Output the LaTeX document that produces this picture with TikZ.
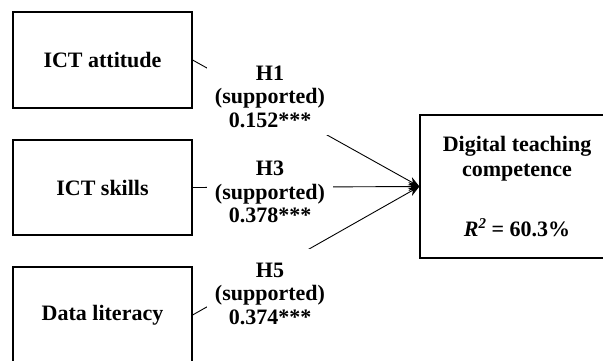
\documentclass[tikz,border=0pt]{standalone}
\usepackage{fontspec}
\setmainfont{Liberation Serif}
\usetikzlibrary{arrows.meta}
\begin{document}
\begin{tikzpicture}[x=1pt,y=-1pt,
  box/.style={draw,line width=1.2pt,minimum width=179pt,minimum height=96pt,inner sep=0pt,
    font=\bfseries\fontsize{22}{25}\selectfont,align=center},
  lbl/.style={fill=white,inner xsep=8pt,inner ysep=8pt,
    font=\bfseries\fontsize{22}{23.5}\selectfont,align=center},
  link/.style={line width=0.9pt,-{Stealth[length=11pt,width=9pt]}}]
\useasboundingbox (0,0) rectangle (603,360);
\node[box] (att) at (102.5,60) {ICT attitude};
\node[box,minimum height=95pt] (skl) at (102.5,187.5) {ICT skills};
\node[box] (dat) at (102.5,315) {Data literacy};
\node[box,minimum width=194pt,minimum height=143pt] (dtc) at (517,186.5)
  {Digital teaching\\competence\\[35pt]\textit{R}\raisebox{8pt}{\fontsize{15}{15}\selectfont\textit{2}} = 60.3\%};
\draw[link] (att.east) -- (dtc.west);
\draw[link] (skl.east) -- (dtc.west);
\draw[link] (dat.east) -- (dtc.west);
\node[lbl] (h1) at (270,96.5) {H1\\(supported)\\0.152***};
\node[lbl] (h3) at (270,192) {H3\\(supported)\\0.378***};
\node[lbl,inner ysep=14pt] (h5) at (270,293.5) {H5\\(supported)\\0.374***};
\end{tikzpicture}
\end{document}
